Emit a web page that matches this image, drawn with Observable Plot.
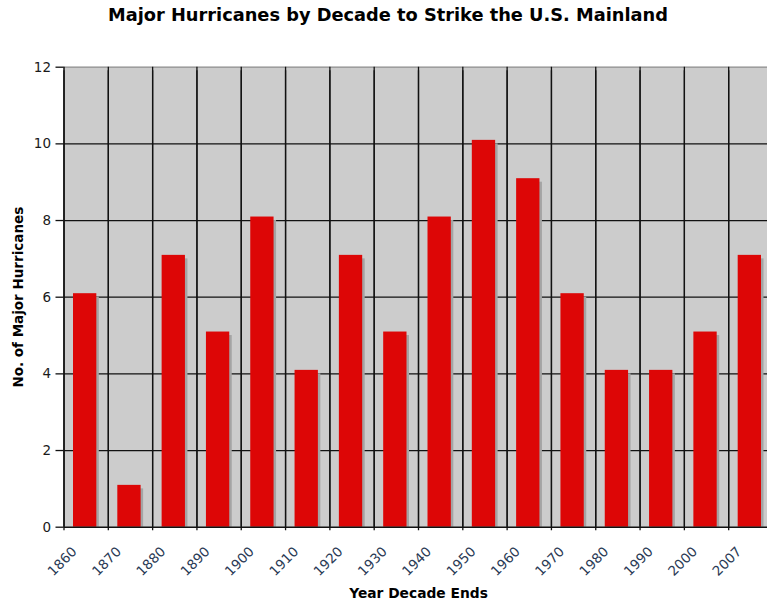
<!DOCTYPE html>
<html>
<head>
<meta charset="utf-8">
<script src="https://cdn.jsdelivr.net/npm/d3@7"></script>
<script src="https://cdn.jsdelivr.net/npm/@observablehq/plot@0.6"></script>
<style>
  html, body { margin: 0; padding: 0; overflow: hidden; background: #fff; }
  #title {
    width: 776px; height: 40px; box-sizing: border-box; padding-top: 4px;
    font: bold 17.8px "DejaVu Sans", Verdana, sans-serif; line-height: 22px;
    text-align: center; color: #000; white-space: nowrap;
  }
</style>
</head>
<body>
<div id="title">Major Hurricanes by Decade to Strike the U.S. Mainland</div>
<div id="chart"></div>
<script>
// Decade labels (each marks the start of a bar's decade)
const decades = ["1860", "1870", "1880", "1890", "1900", "1910", "1920", "1930",
                 "1940", "1950", "1960", "1970", "1980", "1990", "2000", "2007"];
// Number of major hurricanes striking the U.S. mainland in each decade
const hurricanes = [6, 1, 7, 5, 8, 4, 7, 5, 8, 10, 9, 6, 4, 4, 5, 7];
// Y axis tick values
const yTicks = [0, 2, 4, 6, 8, 10, 12];

const idx = decades.map((d, i) => i);
const bounds = d3.range(decades.length + 1);
const font = '"DejaVu Sans", Verdana, sans-serif';

const chart = Plot.plot({
  width: 780,
  height: 565,
  marginLeft: 63.5,
  marginRight: 7.5,
  marginTop: 26.7,
  marginBottom: 78.3,
  style: { fontFamily: font, overflow: "visible", background: "transparent", maxWidth: "none" },
  x: { type: "linear", domain: [0, decades.length], axis: null },
  y: { domain: [0, 12], axis: null },
  marks: [
    Plot.frame({ fill: "#cccccc", stroke: null }),
    // horizontal grid
    Plot.ruleY(yTicks.filter(t => t > 0 && t < 12), { stroke: "#111", strokeWidth: 1.3 }),
    Plot.ruleY([12], { stroke: "#8a8a8a", strokeWidth: 1.3 }),
    // vertical grid at decade boundaries
    Plot.ruleX(bounds.filter(b => b > 0), { y1: 0, y2: 12, stroke: "#111", strokeWidth: 1.3 }),
    // bar shadows
    Plot.rectY(hurricanes, {
      x1: (d, i) => i, x2: (d, i) => i + 1, y1: 0, y2: d => d,
      insetLeft: 9.5, insetRight: 11.5, dx: 2.5, fill: "#a4a4a4"
    }),
    // bars
    Plot.rectY(hurricanes, {
      x1: (d, i) => i, x2: (d, i) => i + 1, y1: 0, y2: d => d,
      insetLeft: 9.5, insetRight: 11.5, insetTop: -3.5, fill: "#dd0606"
    }),
    // axis lines
    Plot.ruleX([0], { y1: 0, y2: 12, stroke: "#111", strokeWidth: 1.5 }),
    Plot.ruleY([0], { stroke: "#111", strokeWidth: 1.5 }),
    // y axis ticks and labels
    Plot.axisY({
      ticks: yTicks, tickSize: 8, tickPadding: 5, fontSize: 13.5,
      stroke: "#111", strokeWidth: 1.3, color: "#1a1a1a", label: null
    }),
    // x axis ticks
    Plot.tickX(idx, { x: d => d, frameAnchor: "bottom", dy: 3.5, stroke: "#111", strokeWidth: 1.3 }),
    // x axis labels, rotated
    Plot.text(idx, {
      x: d => d, text: d => decades[d], frameAnchor: "bottom",
      rotate: -45, textAnchor: "end", lineAnchor: "middle",
      dx: 10.6, dy: 22.2, fontSize: 13.5, fill: "#2a3a55"
    }),
    // axis titles
    Plot.text(["No. of Major Hurricanes"], {
      frameAnchor: "left", rotate: -90, dx: -45, fontSize: 13.5,
      fontWeight: "bold", fill: "#000", textAnchor: "middle", lineAnchor: "middle"
    }),
    Plot.text(["Year Decade Ends"], {
      frameAnchor: "bottom", dy: 66, fontSize: 13.8,
      fontWeight: "bold", fill: "#000", textAnchor: "middle", lineAnchor: "middle"
    })
  ]
});

document.getElementById("chart").append(chart);
</script>
</body>
</html>
